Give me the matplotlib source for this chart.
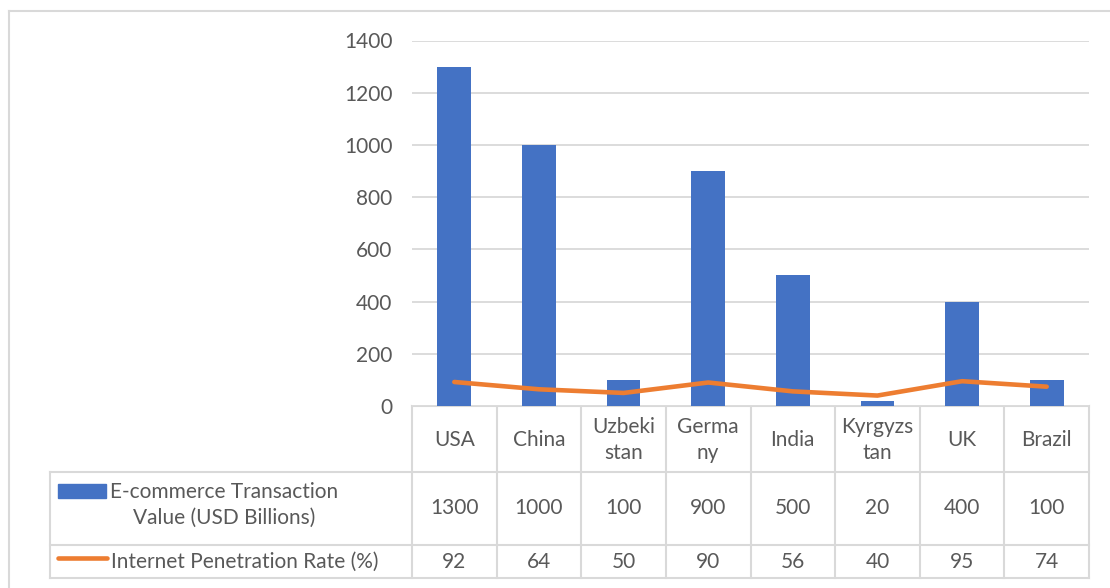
import matplotlib.pyplot as plt
import numpy as np

countries = ['USA', 'China', 'Uzbekistan', 'Germany', 'India', 'Kyrgyzstan', 'UK', 'Brazil']
header_labels = ['USA', 'China', 'Uzbeki\nstan', 'Germa\nny', 'India', 'Kyrgyzs\ntan', 'UK', 'Brazil']
ecommerce = [1300, 1000, 100, 900, 500, 20, 400, 100]
penetration = [92, 64, 50, 90, 56, 40, 95, 74]
yticks = [0, 200, 400, 600, 800, 1000, 1200, 1400]

blue = '#4472C4'
orange = '#ED7D31'
grid_c = '#D9D9D9'
text_c = '#595959'
plt.rcParams['font.family'] = ['Lato', 'DejaVu Sans']
fs = 15

W, H = 1110, 588
fig = plt.figure(figsize=(W / 100, H / 100), dpi=100)

# pixel layout
pl, pr, pt, pb = 412, 1089, 40.5, 406
ax = fig.add_axes([pl / W, 1 - pb / H, (pr - pl) / W, (pb - pt) / H])
x = np.arange(len(countries))
ax.bar(x, ecommerce, width=0.4, color=blue, zorder=2)
ax.plot(x, penetration, color=orange, lw=3.3, solid_capstyle='round',
        solid_joinstyle='round', zorder=3)
ax.set_xlim(-0.5, len(countries) - 0.5)
ax.set_ylim(0, 1400)
ax.set_yticks(yticks)
ax.set_xticks([])
ax.yaxis.grid(True, color=grid_c, lw=1.3)
ax.set_axisbelow(True)
for s in ax.spines.values():
    s.set_visible(False)
ax.tick_params(axis='y', length=0, pad=14, labelsize=fs, labelcolor=text_c)

# overlay in pixel coordinates for frame and data table
ov = fig.add_axes([0, 0, 1, 1], zorder=-1)
ov.set_xlim(0, W)
ov.set_ylim(H, 0)
ov.axis('off')
lk = dict(color=grid_c, lw=1.5)
# chart frame
ov.plot([8.5, 8.5], [H + 5, 10.5], **lk)
ov.plot([8.5, W + 5], [10.5, 10.5], **lk)

edges = np.linspace(pl, pr, len(countries) + 1)
centers = (edges[:-1] + edges[1:]) / 2
r0, r1, r2, r3 = 406, 472, 545, 578
tl = 50
ov.plot([pl, pr], [r0, r0], **lk)
for yy in (r1, r2, r3):
    ov.plot([tl, pr], [yy, yy], **lk)
ov.plot([tl, tl], [r1, r3], **lk)
for e in edges:
    ov.plot([e, e], [r0, r3], **lk)

for c, lab, v1, v2 in zip(centers, header_labels, ecommerce, penetration):
    ov.text(c, (r0 + r1) / 2 + 1, lab, ha='center', va='center', fontsize=fs,
            color=text_c, linespacing=1.35)
    ov.text(c, (r1 + r2) / 2 - 1, str(v1), ha='center', va='center', fontsize=fs, color=text_c)
    ov.text(c, (r2 + r3) / 2, str(v2), ha='center', va='center', fontsize=fs, color=text_c)

# legend keys in table rows
ov.add_patch(plt.Rectangle((58, 484), 48, 14, color=blue))
ov.text(224, 505, 'E-commerce Transaction\nValue (USD Billions)', ha='center', va='center',
        fontsize=fs, color=text_c, linespacing=1.35)
ov.plot([58, 107], [558, 558], color=orange, lw=3.3, solid_capstyle='round')
ov.text(111, (r2 + r3) / 2, 'Internet Penetration Rate (%)', ha='left', va='center',
        fontsize=fs, color=text_c)

fig.savefig('out.png', dpi=100)
